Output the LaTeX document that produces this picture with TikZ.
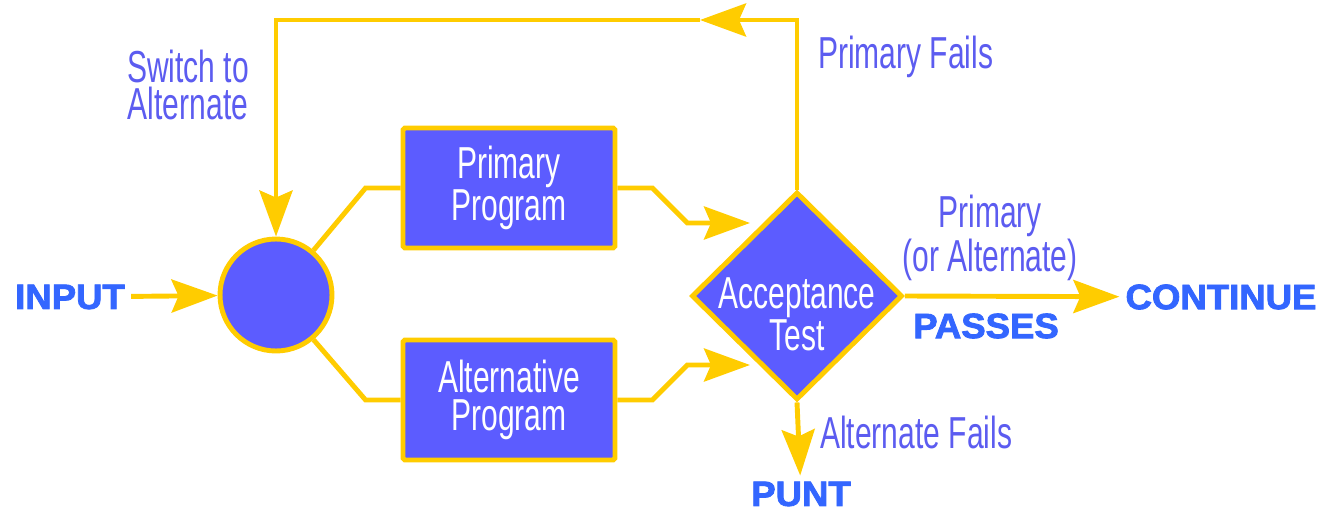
\documentclass[tikz,border=0pt]{standalone}
\usepackage{fontspec}
\setmainfont{Liberation Sans}
\newfontfamily\condfont{Liberation Sans}[FakeStretch=0.67]
\newfontfamily\heavyfont{Liberation Sans Bold}[FakeStretch=1.04,FakeBold=2.4]
\usetikzlibrary{arrows.meta,positioning,shapes.geometric}
\definecolor{gold}{RGB}{255,204,0}
\definecolor{boxblue}{RGB}{92,92,255}
\definecolor{labblue}{RGB}{92,92,240}
\definecolor{brightblue}{RGB}{51,102,255}

\begin{document}
\begin{tikzpicture}[x=0.02cm,y=-0.02cm]
\tikzstyle{line}=[draw=gold,line width=2.8pt]
\tikzstyle{arr}=[line,-{Stealth[length=0.92cm,width=0.66cm,inset=0.14cm]}]
\tikzstyle{intext}=[align=center,text=white,font=\condfont\fontsize{25.5}{21.5}\selectfont]
\tikzstyle{prog}=[intext,draw=gold,fill=boxblue,line width=2.8pt,rounded corners=1pt,
minimum width=4.24cm,minimum height=2.4cm]
\tikzstyle{lab}=[text=labblue,align=center,font=\condfont\fontsize{25.5}{21}\selectfont]
\tikzstyle{big}=[text=brightblue,font=\heavyfont\fontsize{20}{22}\selectfont]
\useasboundingbox (0,0) rectangle (1341,513);
% shapes
\node[draw=gold,fill=boxblue,line width=2.8pt,circle,minimum size=2.24cm,inner sep=0pt](sw) at (276,295){};
\node[prog](prim) at (509,188){Primary\\Program};
\node[prog](alt) at (509,400){Alternative\\Program};
\node[draw=gold,fill=boxblue,line width=2.8pt,diamond,minimum width=4.22cm,minimum height=4.16cm,inner sep=0pt](acc) at (797,296){};
\node[intext](acctxt) at (797,314){Acceptance\\Test};
% labels
\node[big](input) at (70,297){INPUT};
\node[big](cont) at (1221,297){CONTINUE};
\node[big](passes) at (986,326){PASSES};
\node[big](punt) at (801,494){PUNT};
\node[lab,anchor=west](pfails) at (812,57){Primary Fails};
\node[lab,anchor=west](afails) at (814,432){Alternate Fails};
\node[lab](swalt) at (188,85){Switch to\\Alternate};
\node[lab](porr) at (990,238){Primary\\(or Alternate)};
\coordinate (toptip) at (700,20);
\coordinate (pin) at (750,223);
\coordinate (ain) at (750,365);
% connectors
\draw[arr](input)--(sw);
\draw[line](sw.50)--([xshift=-0.7cm]prim.west)--(prim.west);
\draw[line](sw.-50)--([xshift=-0.7cm]alt.west)--(alt.west);
\draw[arr](prim.east)--++(35,0)--++(35,35)--(pin);
\draw[arr](alt.east)--++(35,0)--++(35,-35)--(ain);
\draw[arr](acc.east)--(cont);
\draw[arr](acc.south)--(punt);
\draw[arr](acc.north)|-(toptip);
\draw[arr](toptip)-|(sw.north);
\end{tikzpicture}
\end{document}
